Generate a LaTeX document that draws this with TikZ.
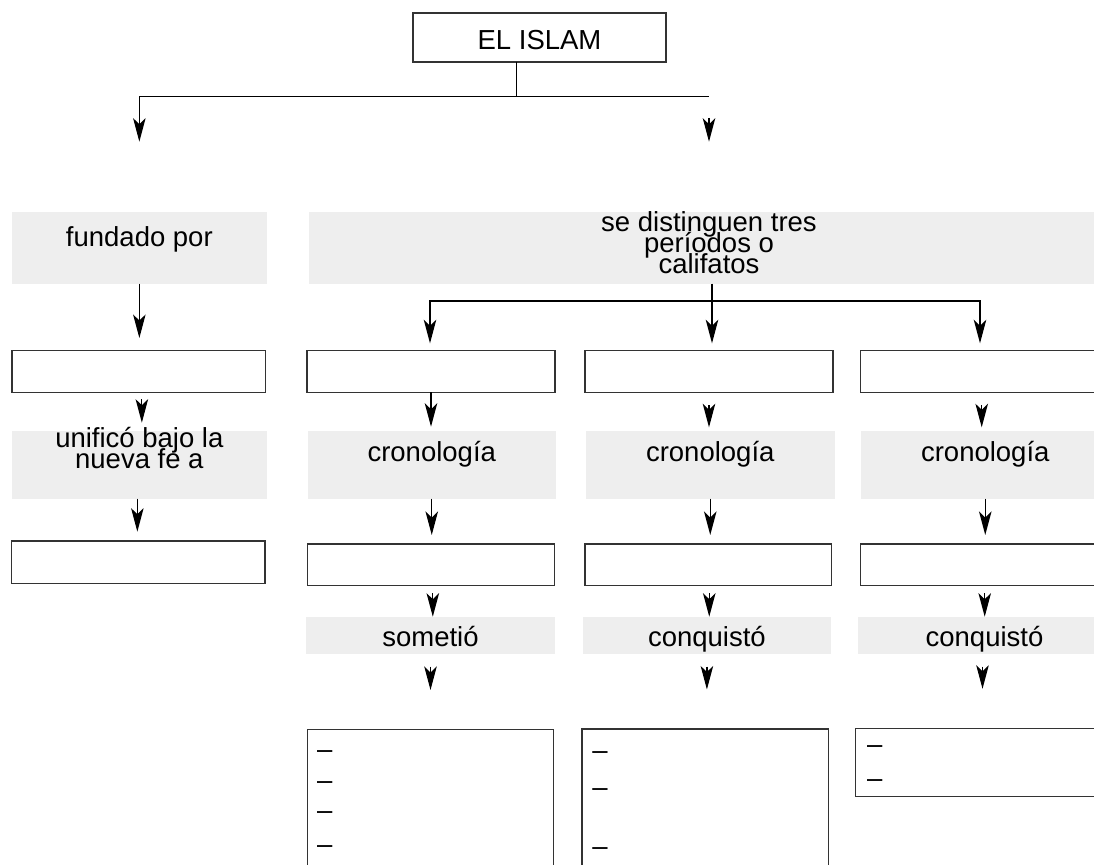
\documentclass[tikz,border=0pt]{standalone}
\usepackage{fontspec}
\setmainfont{Liberation Sans}
\usetikzlibrary{arrows.meta}
\definecolor{boxgray}{RGB}{238,238,238}
\newcommand{\stk}[1]{\vtop{\baselineskip=21.3pt\lineskiplimit=-\maxdimen\halign{\hfil##\hfil\cr#1\crcr}}}
\newcommand{\drow}[1]{\hbox to #1{\textendash\hfil}}
\begin{document}
\begin{tikzpicture}[x=1pt,y=-1pt,
  every node/.style={inner sep=0pt, outer sep=0pt, anchor=north west, font=\fontsize{27.5}{21.3}\selectfont},
  wbox/.style={draw=black!80, line width=1.3pt, fill=white},
  gbox/.style={fill=boxgray},
  conn/.style={draw=black, line width=1.2pt},
  arr/.style={-{Stealth[length=23.5pt,width=12.5pt,inset=6pt]}},
]
\useasboundingbox (0,0) rectangle (1094,864);
\clip (0,0) rectangle (1094,864);

% top
\node[wbox, minimum width=253pt, minimum height=49pt, text height=36.3pt, text depth=12.7pt] (islam) at (413,13) {EL ISLAM};

% row A
\node[gbox, minimum width=254.7pt, text height=35.2pt, text depth=36.8pt] (fundado) at (12,211.5) {fundado por};
\node[gbox, minimum width=800pt, text height=19.5pt, text depth=52.5pt] (dist) at (309,211.5) {\stk{se distinguen tres\cr períodos o\cr califatos}};

% row 1 white boxes
\node[wbox, minimum width=253.7pt, minimum height=41.6pt] (l1) at (12,350.7) {};
\node[wbox, minimum width=248pt, minimum height=41.6pt] (c1a) at (307,350.7) {};
\node[wbox, minimum width=248pt, minimum height=41.6pt] (c2a) at (585,350.7) {};
\node[wbox, minimum width=248pt, minimum height=41.6pt] (c3a) at (860.5,350.7) {};

% row B
\node[gbox, minimum width=254.7pt, text height=16.8pt, text depth=51.2pt] (unif) at (12,430.5) {\stk{unificó bajo la\cr nueva fe a}};
\node[gbox, minimum width=248.5pt, text height=31.2pt, text depth=36.8pt] (c1b) at (307.5,430.5) {cronología};
\node[gbox, minimum width=248.5pt, text height=31.2pt, text depth=36.8pt] (c2b) at (586,430.5) {cronología};
\node[gbox, minimum width=248.5pt, text height=31.2pt, text depth=36.8pt] (c3b) at (861,430.5) {cronología};

% row 2 white boxes
\node[wbox, minimum width=253.7pt, minimum height=42.3pt] (l2) at (11.3,541) {};
\node[wbox, minimum width=247pt, minimum height=41.7pt] (c1c) at (307.3,544) {};
\node[wbox, minimum width=246.5pt, minimum height=41.7pt] (c2c) at (585,544) {};
\node[wbox, minimum width=248pt, minimum height=41.7pt] (c3c) at (860.7,544) {};

% row C
\node[gbox, minimum width=249pt, text height=29.7pt, text depth=7.3pt] (c1d) at (306,617) {sometió};
\node[gbox, minimum width=248pt, text height=29.7pt, text depth=7.3pt] (c2d) at (582.9,617) {conquistó};
\node[gbox, minimum width=253pt, text height=29.7pt, text depth=7.3pt] (c3d) at (858,617) {conquistó};

% row D lists
\node[wbox, minimum width=246.5pt, text height=29.4pt, text depth=170.6pt] (c1e) at (307.3,729.5)
  {\vtop{\baselineskip=0pt\lineskiplimit=-\maxdimen\drow{227pt}\vskip30.7pt\drow{227pt}\vskip29.7pt\drow{227pt}\vskip34pt\drow{227pt}}};
\node[wbox, minimum width=246.3pt, text height=30.9pt, text depth=169.1pt] (c2e) at (582,729)
  {\vtop{\baselineskip=0pt\lineskiplimit=-\maxdimen\drow{225.7pt}\vskip36.7pt\drow{225.7pt}\vskip59pt\drow{225.7pt}}};
\node[wbox, minimum width=252pt, text height=25.6pt, text depth=42.4pt] (c3e) at (855.7,728.3)
  {\vtop{\baselineskip=0pt\lineskiplimit=-\maxdimen\drow{229.4pt}\vskip33.4pt\drow{229.4pt}}};

% connectors: top level
\coordinate (jtop) at ([shift={(-22.8,34.7)}]islam.south);
\draw[conn] ([xshift=-22.8pt]islam.south) -- (jtop);
\draw[conn, arr, shorten >=69.8pt] (jtop) -| (fundado.north);
\draw[conn] (jtop) -- (jtop -| dist.north);
\draw[conn, arr, shorten <=21.3pt, shorten >=69.8pt] (jtop -| dist.north) -- (dist.north);

% left column
\draw[conn, arr, shorten >=12.7pt] (fundado.south) -- (fundado.south |- l1.north);
\draw[conn, arr, shorten <=6.7pt, shorten >=7.8pt] ([xshift=3pt]l1.south) -- ([xshift=3pt]l1.south |- unif.north);
\draw[conn, arr, shorten >=9.3pt] ([xshift=-2pt]unif.south) -- ([xshift=-2pt]unif.south |- l2.north);

% second level
\coordinate (jmid) at ([shift={(3,17.5)}]dist.south);
\draw[conn, arr, shorten >=7.4pt] (jmid) -| ([xshift=-1pt]c1a.north);
\draw[conn, arr, shorten >=7.4pt] ([xshift=3pt]dist.south) -- ([xshift=3pt]dist.south |- c2a.north);
\draw[conn, arr, shorten >=7.4pt] (jmid) -| ([xshift=-4.5pt]c3a.north);

% white box 1 -> cronologia
\draw[conn, arr, shorten >=3.8pt] (c1a.south) -- (c1a.south |- c1b.north);
\draw[conn, arr, shorten <=12.7pt, shorten >=3.2pt] (c2a.south) -- (c2a.south |- c2b.north);
\draw[conn, arr, shorten <=12.7pt, shorten >=3.2pt] ([xshift=-2.8pt]c3a.south) -- ([xshift=-2.8pt]c3a.south |- c3b.north);

% cronologia -> white box 2
\draw[conn, arr, shorten >=9pt] (c1b.south) -- (c1b.south |- c1c.north);
\draw[conn, arr, shorten >=9pt] (c2b.south) -- (c2b.south |- c2c.north);
\draw[conn, arr, shorten >=9pt] (c3b.south) -- (c3b.south |- c3c.north);

% white box 2 -> row C
\draw[conn, arr, shorten <=7.6pt, shorten >=0.3pt] ([xshift=2pt]c1c.south) -- ([xshift=2pt]c1c.south |- c1d.north);
\draw[conn, arr, shorten <=7.6pt, shorten >=0.3pt] ([xshift=1pt]c2c.south) -- ([xshift=1pt]c2c.south |- c2d.north);
\draw[conn, arr, shorten <=7.6pt, shorten >=0.3pt] (c3c.south) -- (c3c.south |- c3d.north);

% row C -> lists
\draw[conn, arr, shorten <=12.7pt, shorten >=39.5pt] (c1d.south) -- (c1d.south |- c1e.north);
\draw[conn, arr, shorten <=12.7pt, shorten >=39.5pt] (c2d.south) -- (c2d.south |- c2e.north);
\draw[conn, arr, shorten <=12.7pt, shorten >=39.5pt] ([xshift=-2pt]c3d.south) -- ([xshift=-2pt]c3d.south |- c3e.north);
\end{tikzpicture}
\end{document}
